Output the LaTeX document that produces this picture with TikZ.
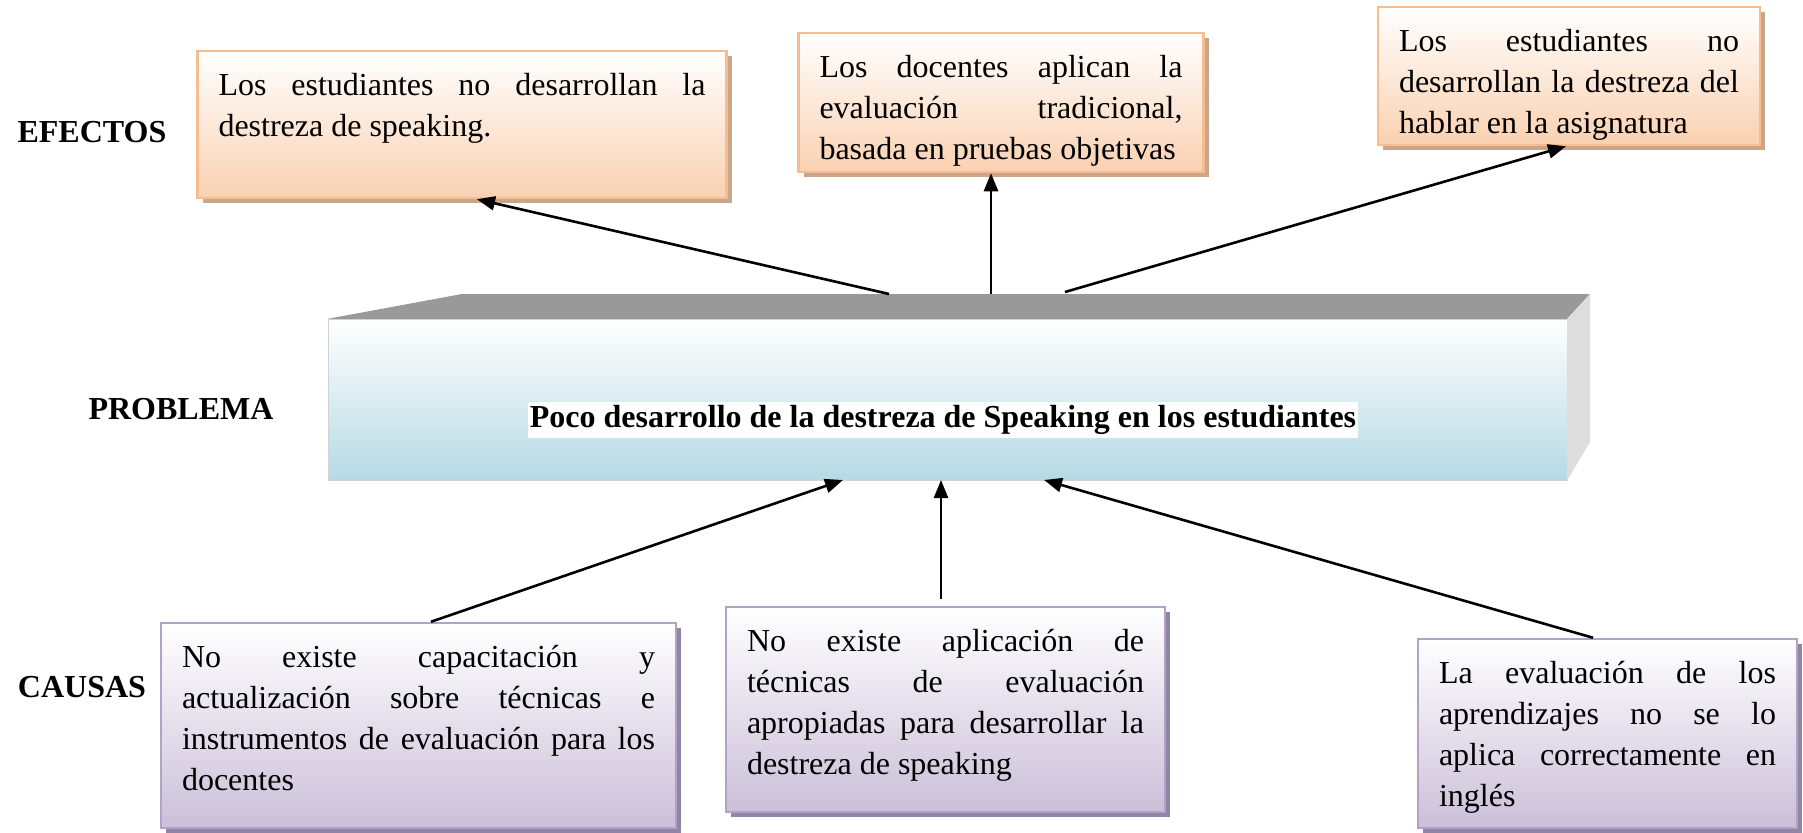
\documentclass[tikz,border=0pt]{standalone}
\usepackage{fontspec}
\setmainfont{Liberation Serif}
\usepackage{tikz}
\usetikzlibrary{arrows.meta}
\usetikzlibrary{shadows}
\usetikzlibrary{calc}
\definecolor{bordeefecto}{HTML}{F7BC8F}
\definecolor{fondoefecto}{HTML}{FAD1B1}
\definecolor{sombraefecto}{HTML}{C9A68A}
\definecolor{bordecausa}{HTML}{B3A2C7}
\definecolor{fondocausa}{HTML}{CBBFD9}
\definecolor{sombracausa}{HTML}{9085A6}
\definecolor{fondoproblema}{HTML}{B5DAE4}
\definecolor{techo}{HTML}{999999}
\definecolor{lado}{HTML}{DDDDDD}
\newcommand{\caja}[3]{\parbox[t][#1][t]{#2}{#3}}
\newcommand{\just}[1]{\makebox[\linewidth][s]{#1}\\}
\tikzset{
	efecto/.style={rectangle,draw=bordeefecto,line width=2.5pt,top color=white,bottom color=fondoefecto,
		inner xsep=21pt,inner ysep=22pt,font=\fontsize{32}{41}\selectfont,
		drop shadow={shadow xshift=5pt,shadow yshift=-5pt,fill=sombraefecto,opacity=1}},
	causa/.style={rectangle,draw=bordecausa,line width=2.5pt,top color=white,bottom color=fondocausa,
		inner xsep=21pt,inner ysep=22pt,font=\fontsize{32}{41}\selectfont,
		drop shadow={shadow xshift=5pt,shadow yshift=-5pt,fill=sombracausa,opacity=1}},
	frente/.style={rectangle,draw=gray!35,top color=white,bottom color=fondoproblema,inner sep=0pt},
	textoprob/.style={fill=white,inner xsep=2pt,inner ysep=3pt,font=\fontsize{32}{38}\selectfont\bfseries},
	etiqueta/.style={font=\fontsize{32}{38}\selectfont\bfseries},
	flecha/.style={->,line width=2.6pt},
	>={Triangle[length=18pt,width=14pt]},
	}

\begin{document}
\begin{tikzpicture}[x=1pt,y=-1pt]
\useasboundingbox (0,0) rectangle (1803,832);
% PROBLEMA
\node[frente,minimum width=1239pt,minimum height=161pt] (prob) at (947.5,399.5) {};
\fill[techo] (prob.north west) -- (462,294) -- (1590,294) -- (prob.north east) -- cycle;
\fill[lado] (prob.north east) -- (1590,294) -- (1590,442) -- (prob.south east) -- cycle;
\node[textoprob] (ptexto) at (943,420) {Poco desarrollo de la destreza de Speaking en los estudiantes};
% ETIQUETAS
\node[etiqueta] (lefectos) at (92,132) {EFECTOS};
\node[etiqueta] (lproblema) at (181,409) {PROBLEMA};
\node[etiqueta] (lcausas) at (82,687) {CAUSAS};
% EFECTOS
\node[efecto] (ef1) at (462,124.5) {\caja{103pt}{487pt}{\just{Los estudiantes no desarrollan la}destreza de speaking.}};
\node[efecto] (ef2) at (1001,102.5) {\caja{95pt}{363pt}{\just{Los docentes aplican la}\just{evaluación tradicional,}basada en pruebas objetivas}};
\node[efecto] (ef3) at (1569,76) {\caja{94pt}{340pt}{\just{Los estudiantes no}\just{desarrollan la destreza del}hablar en la asignatura}};
% CAUSAS
\node[causa] (ca1) at (418.5,725.5) {\caja{161pt}{473pt}{\just{No existe capacitación y}\just{actualización sobre técnicas e}\just{instrumentos de evaluación para los}docentes}};
\node[causa] (ca2) at (945.5,709.5) {\caja{161pt}{397pt}{\just{No existe aplicación de}\just{técnicas de evaluación}\just{apropiadas para desarrollar la}destreza de speaking}};
\node[causa] (ca3) at (1607.5,733.5) {\caja{145pt}{337pt}{\just{La evaluación de los}\just{aprendizajes no se lo}\just{aplica correctamente en}inglés}};
% PUNTOS SOBRE EL PROBLEMA
\coordinate (s1) at (889,294);
\coordinate (s2) at (991,294);
\coordinate (s3) at (1065,292);
\coordinate (b1) at (843,480);
\coordinate (b2) at (941,480);
\coordinate (b3) at (1044,480);
% FLECHAS
\draw[flecha] (s1) -- ($(ef1.south)+(15,0)$);
\draw[flecha] (s2) -- ($(ef2.south)+(-10,0)$);
\draw[flecha] (s3) -- ($(ef3.south)+(-3,0)$);
\draw[flecha] ($(ca1.north)+(12.5,0)$) -- (b1);
\draw[flecha] ($(ca2.north)+(-4.5,-7)$) -- (b2);
\draw[flecha] ($(ca3.north)+(-14.5,0)$) -- (b3);
\end{tikzpicture}
\end{document}
